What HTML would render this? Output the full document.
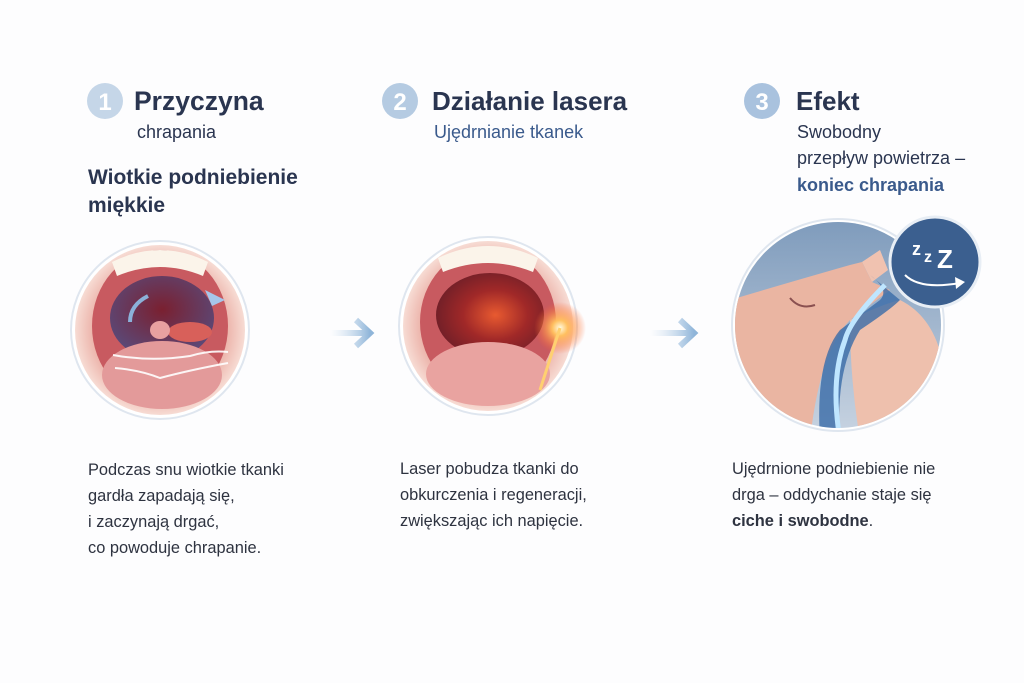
<!DOCTYPE html>
<html><head><meta charset="utf-8"><style>
body{margin:0;width:1024px;height:683px;background:#fdfdfe;overflow:hidden;font-family:"Liberation Sans",sans-serif;}
svg{position:absolute;left:0;top:0}
text{font-family:"Liberation Sans",sans-serif}
</style></head><body>
<svg width="1024" height="683" viewBox="0 0 1024 683">
<defs>
<radialGradient id="skin" cx="50%" cy="50%" r="50%"><stop offset="0.65" stop-color="#e59a90"/><stop offset="1" stop-color="#f7dcd4"/></radialGradient>
<radialGradient id="throat" cx="50%" cy="40%" r="60%"><stop offset="0" stop-color="#7a2030"/><stop offset="1" stop-color="#5a4a7a"/></radialGradient>
<radialGradient id="throat2" cx="55%" cy="50%" r="60%"><stop offset="0" stop-color="#e85a30"/><stop offset="0.5" stop-color="#a02828"/><stop offset="1" stop-color="#6a1e28"/></radialGradient>
<radialGradient id="flash" cx="50%" cy="50%" r="50%"><stop offset="0" stop-color="#fffbe0"/><stop offset="0.3" stop-color="#ffc060"/><stop offset="1" stop-color="#ff6030" stop-opacity="0"/></radialGradient>
<linearGradient id="sky" x1="0" y1="0" x2="0" y2="1"><stop offset="0" stop-color="#7d9abb"/><stop offset="1" stop-color="#c7d3e1"/></linearGradient>
<linearGradient id="arr" x1="0" x2="1"><stop offset="0" stop-color="#c9dcee" stop-opacity="0"/><stop offset="1" stop-color="#8fb5d9"/></linearGradient>
<clipPath id="c3"><circle cx="838" cy="325" r="103"/></clipPath>
</defs>
<circle cx="105" cy="101" r="18" fill="#c5d6e8"/><text x="105" y="110" font-size="24" fill="#fff" text-anchor="middle" font-weight="bold">1</text>
<circle cx="400" cy="101" r="18" fill="#b5cbe2"/><text x="400" y="110" font-size="24" fill="#fff" text-anchor="middle" font-weight="bold">2</text>
<circle cx="762" cy="101" r="18" fill="#a9c2de"/><text x="762" y="110" font-size="24" fill="#fff" text-anchor="middle" font-weight="bold">3</text>
<g fill="#2a3550">
<text x="134" y="110" font-size="26.5" font-weight="bold">Przyczyna</text>
<text x="137" y="138" font-size="18">chrapania</text>
<text x="88" y="184" font-size="21" font-weight="bold">Wiotkie podniebienie</text>
<text x="88" y="212" font-size="21" font-weight="bold">miękkie</text>
<text x="432" y="110" font-size="26" font-weight="bold">Działanie lasera</text>
<text x="796" y="110" font-size="26" font-weight="bold">Efekt</text>
<text x="797" y="138" font-size="18">Swobodny</text>
<text x="797" y="164" font-size="18">przepływ powietrza –</text>
</g>
<text x="434" y="138" font-size="18" fill="#3a5a8c">Ujędrnianie tkanek</text>
<text x="797" y="191" font-size="18" fill="#3a5a8c" font-weight="bold">koniec chrapania</text>
<!-- circle 1 -->
<circle cx="160" cy="330" r="89" fill="#fff" stroke="#dfe6ef" stroke-width="2"/>
<circle cx="160" cy="330" r="85" fill="url(#skin)"/>
<ellipse cx="160" cy="326" rx="68" ry="76" fill="#c85a60"/>
<path d="M112 262 Q160 238 208 262 L203 276 Q160 258 117 276Z" fill="#fbf4ea"/>
<ellipse cx="162" cy="318" rx="52" ry="42" fill="url(#throat)"/>
<ellipse cx="190" cy="332" rx="22" ry="10" fill="#d8605a"/>
<ellipse cx="160" cy="330" rx="10" ry="9" fill="#e8a0a0"/>
<ellipse cx="162" cy="375" rx="60" ry="34" fill="#e39a9a"/>
<g stroke="#fff" stroke-width="2" fill="none" opacity="0.9">
<path d="M113 355 Q150 362 190 356 Q210 350 228 352"/><path d="M115 368 Q140 370 160 378 Q190 370 228 363"/>
<path d="M148 296 Q130 305 130 322" stroke="#8fbfe8" stroke-width="4"/>
</g>
<path d="M205 290 L225 300 L212 306Z" fill="#a6c6ea"/>
<path d="M330 333 L368 333 M356 320 L370 333 L356 346" stroke="url(#arr)" stroke-width="6" fill="none"/>
<!-- circle 2 -->
<circle cx="488" cy="326" r="89" fill="#fff" stroke="#dfe6ef" stroke-width="2"/>
<circle cx="488" cy="326" r="85" fill="url(#skin)"/>
<ellipse cx="488" cy="322" rx="68" ry="74" fill="#c85a60"/>
<path d="M438 258 Q488 234 538 258 L533 272 Q488 254 443 272Z" fill="#fbf4ea"/>
<ellipse cx="490" cy="315" rx="54" ry="42" fill="url(#throat2)"/>
<ellipse cx="488" cy="374" rx="62" ry="32" fill="#e9a3a0"/>
<circle cx="560" cy="328" r="26" fill="url(#flash)"/>
<path d="M560 328 L540 390" stroke="#ffd070" stroke-width="3"/>
<path d="M650 333 L692 333 M680 320 L694 333 L680 346" stroke="url(#arr)" stroke-width="6" fill="none"/>
<!-- circle 3 -->
<circle cx="838" cy="325" r="106" fill="#fff" stroke="#dfe6ef" stroke-width="2"/>
<g clip-path="url(#c3)">
<rect x="730" y="215" width="220" height="220" fill="url(#sky)"/>
<path d="M730 300 Q780 285 850 265 L862 262 L872 282 L890 290 L850 320 Q820 350 810 440 L730 440Z" fill="#eab5a2"/>
<path d="M862 262 L880 250 L888 270 L872 282Z" fill="#f0c2b0"/>
<path d="M850 320 Q880 305 900 300 Q940 320 945 380 L945 440 L860 440 Q850 380 850 320Z" fill="#eec0ad"/>
<path d="M870 275 Q890 290 880 300 L840 330 Q815 360 820 440 L840 440 Q835 370 860 330 Q890 310 900 300" fill="#3a6ca8" opacity="0.8"/>
<path d="M885 285 Q850 320 845 340 Q830 380 840 440" stroke="#bfe6ff" stroke-width="5" fill="none"/>
<path d="M790 298 Q800 310 815 305" stroke="#8a5050" stroke-width="2" fill="none"/>
</g>
<circle cx="935" cy="262" r="45" fill="#3b5f8f" stroke="#e8eef5" stroke-width="3"/>
<text x="912" y="255" font-size="18" fill="#fff" font-weight="bold">z</text>
<text x="924" y="262" font-size="16" fill="#fff" font-weight="bold">z</text>
<text x="937" y="268" font-size="26" fill="#fff" font-weight="bold">Z</text>
<path d="M905 275 Q920 290 960 283" stroke="#fff" stroke-width="2" fill="none"/><path d="M955 277 L965 282 L956 289Z" fill="#fff"/>
<g font-size="16.4" fill="#2e3340">
<text x="88" y="475">Podczas snu wiotkie tkanki</text>
<text x="88" y="501">gardła zapadają się,</text>
<text x="88" y="527">i zaczynają drgać,</text>
<text x="88" y="553">co powoduje chrapanie.</text>
<text x="400" y="474">Laser pobudza tkanki do</text>
<text x="400" y="500">obkurczenia i regeneracji,</text>
<text x="400" y="526">zwiększając ich napięcie.</text>
<text x="732" y="474">Ujędrnione podniebienie nie</text>
<text x="732" y="500">drga – oddychanie staje się</text>
<text x="732" y="526"><tspan font-weight="bold">ciche i swobodne</tspan>.</text>
</g>
</svg>
</body></html>
